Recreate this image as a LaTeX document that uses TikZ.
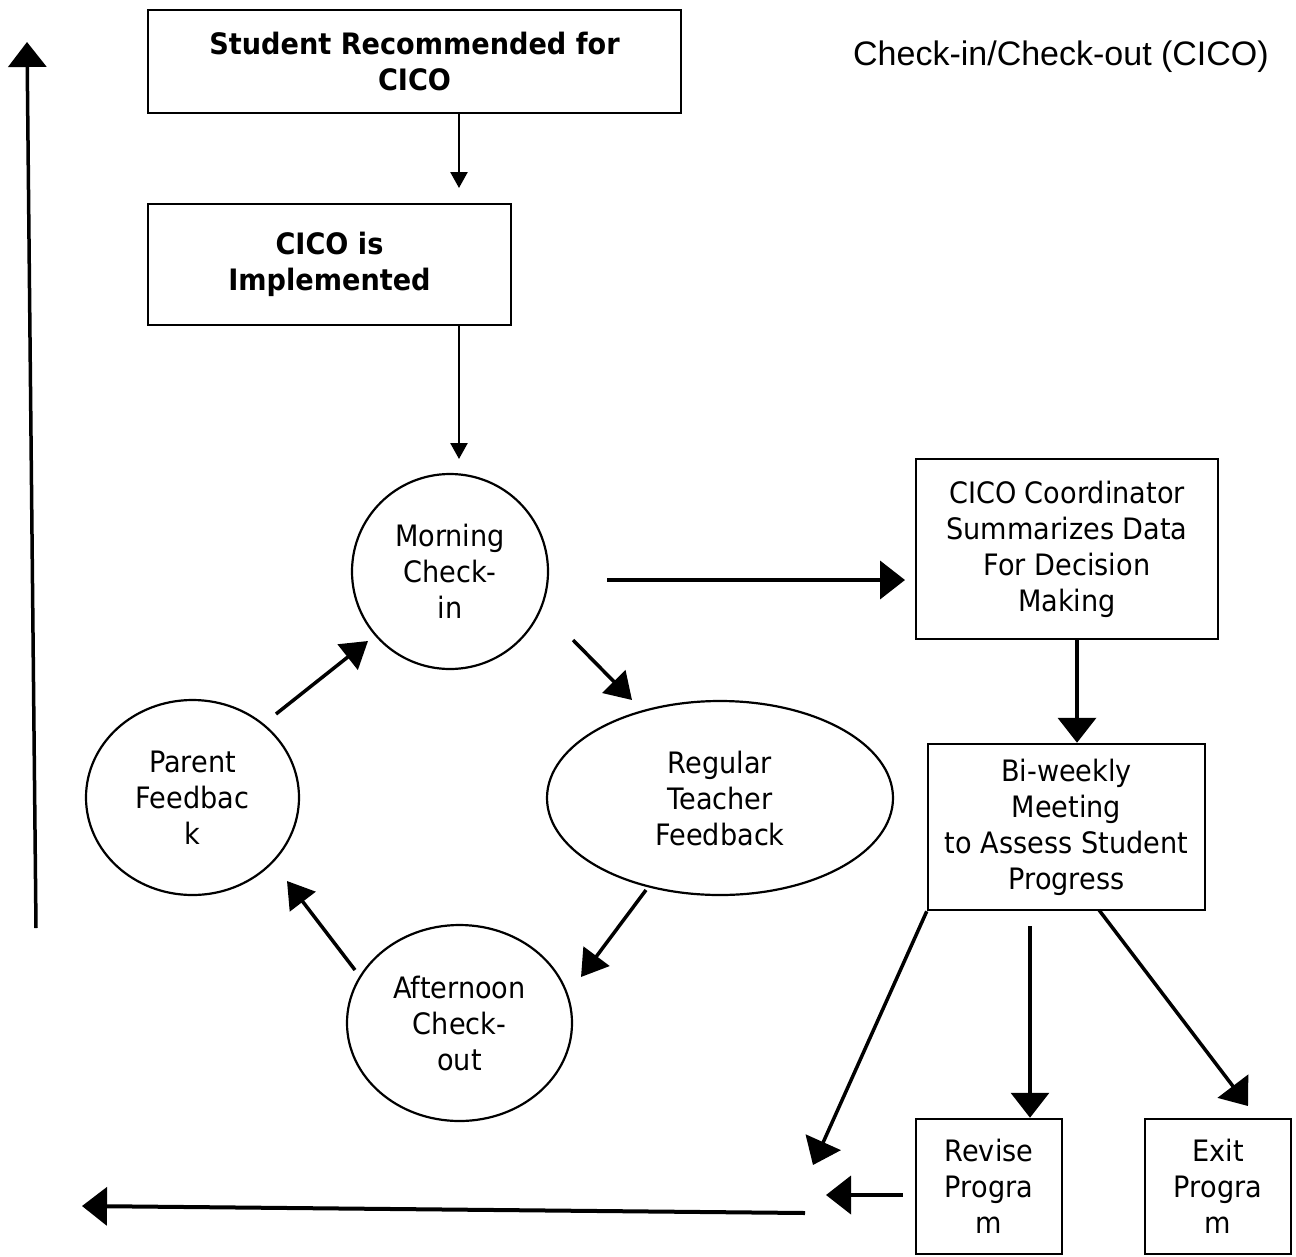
\documentclass[tikz,border=0pt]{standalone}
\usepackage{fontspec}
\setmainfont{DejaVu Sans}[FakeStretch=0.92]
\newfontfamily\titlefont{Liberation Sans}
\usetikzlibrary{arrows.meta,shapes.geometric}
\tikzset{
  txt/.style={font=\fontsize{29.5pt}{36pt}\selectfont},
  boldtxt/.style={font=\bfseries\fontsize{29.5pt}{36pt}\selectfont},
  box/.style={txt, draw, line width=2.5pt, inner sep=0pt, align=center},
  oval/.style={txt, draw, ellipse, line width=2.2pt, inner sep=0pt, align=center},
  bigarrow/.style={-{Triangle[length=25pt,width=38pt]}, line width=4pt},
  smallarrow/.style={-{Triangle[length=16pt,width=17pt]}, line width=2.5pt},
  cycarrow/.style={-{Triangle[length=26pt,width=32pt]}, line width=3.5pt}
}
\begin{document}
\begin{tikzpicture}[x=1pt,y=-1pt]
\useasboundingbox (0,0) rectangle (1296,1256);
% nodes
\node[box, boldtxt, minimum width=533pt, minimum height=103pt] (rec) at (414.5,61.5) {Student Recommended for\\CICO};
\node[box, boldtxt, minimum width=363pt, minimum height=121pt] (impl) at (329.5,264.5) {CICO is\\Implemented};
\node[oval, minimum width=196pt, minimum height=195pt] (morn) at (450,571.5) {Morning\\Check-\\in};
\node[oval, minimum width=346pt, minimum height=194pt] (reg) at (720,798) {Regular\\Teacher\\Feedback};
\node[oval, minimum width=213pt, minimum height=195pt] (par) at (192.5,797.5) {Parent\\Feedbac\\k};
\node[oval, minimum width=225pt, minimum height=196pt] (aft) at (459.5,1023) {Afternoon\\Check-\\out};
\node[box, minimum width=302pt, minimum height=180pt] (coord) at (1067,549) {CICO Coordinator\\Summarizes Data\\For Decision\\Making};
\node[box, minimum width=277pt, minimum height=166pt] (bi) at (1066.5,827) {Bi-weekly\\Meeting\\to Assess Student\\Progress};
\node[box, minimum width=146pt, minimum height=135pt] (rev) at (989,1186.5) {Revise\\Progra\\m};
\node[box, minimum width=146pt, minimum height=135pt] (exit) at (1218,1186.5) {Exit\\Progra\\m};
\node[font=\titlefont\fontsize{34pt}{40pt}\selectfont, inner sep=0pt] (title) at (1061,57) {Check-in/Check-out (CICO)};
% free ends
\coordinate (t1) at (459,188);
\coordinate (t2) at (459,459);
\coordinate (s3) at (607,580);
\coordinate (t3) at (905,580);
\coordinate (x4) at (1077,0);
\coordinate (t5) at (813,1165);
\coordinate (s6) at (1030,926);
\coordinate (s7) at (1099,910);
\coordinate (t7) at (1248,1106);
\coordinate (t8) at (826,1195);
\coordinate (y8) at (0,1195);
\coordinate (s9) at (805,1213);
\coordinate (t9) at (82,1206);
\coordinate (s10) at (36,928);
\coordinate (t10) at (27,42);
\coordinate (pm1) at (276,714);
\coordinate (pm2) at (368,641);
\coordinate (mr1) at (573,640);
\coordinate (mr2) at (632,700);
\coordinate (ra1) at (646,890);
\coordinate (ra2) at (581,977);
\coordinate (ap1) at (355,970);
\coordinate (ap2) at (287,881);
% connectors
\draw[smallarrow] (rec.south -| t1) -- (t1);
\draw[smallarrow] (impl.south -| t2) -- (t2);
\draw[bigarrow] (s3) -- (t3);
\draw[bigarrow] (coord.south -| x4) -- (bi.north -| x4);
\draw[bigarrow, line width=3.5pt] (bi.south west) -- (t5);
\draw[bigarrow, line width=3.5pt] (s6) -- (rev.north -| s6);
\draw[bigarrow, line width=3.5pt] (s7) -- (t7);
\draw[bigarrow] ([xshift=-12pt]rev.west |- y8) -- (t8);
\draw[bigarrow] (s9) -- (t9);
\draw[bigarrow, line width=3.5pt] (s10) -- (t10);
\draw[cycarrow] (pm1) -- (pm2);
\draw[cycarrow] (mr1) -- (mr2);
\draw[cycarrow] (ra1) -- (ra2);
\draw[cycarrow] (ap1) -- (ap2);
\end{tikzpicture}
\end{document}
